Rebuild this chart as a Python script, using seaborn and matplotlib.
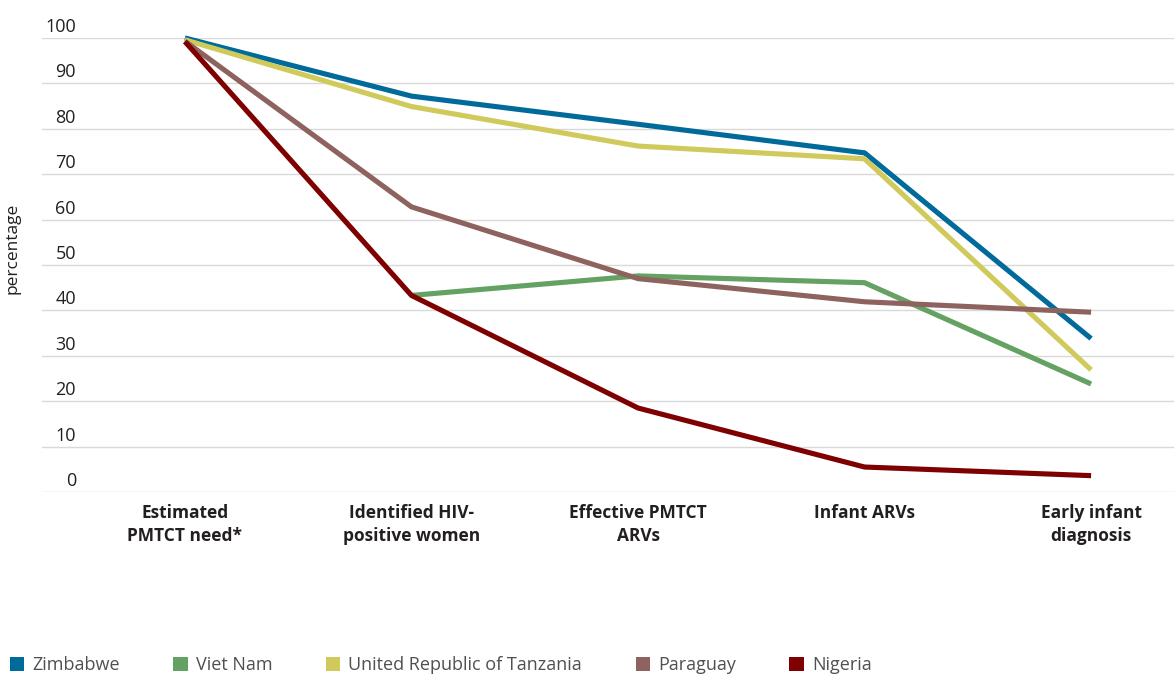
import pandas as pd
import matplotlib.pyplot as plt
import matplotlib.transforms as mtransforms
from matplotlib.patches import Patch
import seaborn as sns

# Data
stages = ["Estimated\nPMTCT need*", "Identified HIV-\npositive women", "Effective PMTCT\nARVs",
          "Infant ARVs", "Early infant\ndiagnosis"]
countries = ["Zimbabwe", "Viet Nam", "United Republic of Tanzania", "Paraguay", "Nigeria"]
zimbabwe = [100, 87.2, 81.0, 74.7, 33.8]
viet_nam = [None, 43.3, 47.6, 46.1, 23.8]
tanzania = [99.6, 84.9, 76.2, 73.4, 26.9]
paraguay = [99.3, 62.8, 47.0, 41.9, 39.6]
nigeria = [99.2, 43.3, 18.5, 5.5, 3.6]
colors = ["#006a9b", "#63a263", "#d0ca5c", "#8e625e", "#7f0000"]

series = dict(zip(countries, [zimbabwe, viet_nam, tanzania, paraguay, nigeria]))
rows = []
for c, vals in series.items():
    for s, v in zip(stages, vals):
        if v is not None:
            rows.append({"country": c, "stage": s, "value": v})
df = pd.DataFrame(rows)

sns.set_style("white")
plt.rcParams['font.family'] = ['Open Sans', 'DejaVu Sans']

fig = plt.figure(figsize=(11.74, 6.75), dpi=100)
ax = fig.add_axes([42 / 1174, 1 - 492 / 675, 1 - 42 / 1174, (492 - 38) / 675])

sns.lineplot(data=df, x="stage", y="value", hue="country", hue_order=countries,
             palette=dict(zip(countries, colors)), linewidth=3.7, sort=False,
             errorbar=None, legend=False, ax=ax)
for ln in ax.get_lines():
    ln.set_clip_on(False)
    ln.set_solid_joinstyle("miter")
    ln.set_solid_capstyle("butt")

ax.set_ylim(0, 100)
ax.set_xlim(-0.631, 4.366)
ax.set_yticks(range(0, 101, 10))
ax.grid(axis="y", color="#d9d9d9", linewidth=1.0)
ax.grid(axis="x", visible=False)
ax.set_axisbelow(True)
sns.despine(ax=ax, left=True, bottom=True)

ax.tick_params(axis="y", length=0, pad=0, labelsize=13, labelcolor="#231f20")
ax.tick_params(axis="x", length=0, pad=9, labelsize=12.5, labelcolor="#231f20")
for lab in ax.get_xticklabels():
    lab.set_fontweight("bold")
    lab.set_linespacing(1.35)

offset = mtransforms.ScaledTranslation(0.34, 0.13, fig.dpi_scale_trans)
for lab in ax.get_yticklabels():
    lab.set_transform(lab.get_transform() + offset)

ax.set_xlabel("")
ax.set_ylabel("percentage", fontsize=12.5, color="#231f20")
ax.yaxis.set_label_coords(-0.019, 0.537)

handles = [Patch(facecolor=c, edgecolor="none") for c in colors]
fig.legend(handles, countries, loc="center left", bbox_to_anchor=(10 / 1174, 1 - 665 / 675),
           ncol=5, frameon=False, fontsize=13, handlelength=0.8, handleheight=0.8,
           handletextpad=0.45, columnspacing=2.95, borderpad=0, borderaxespad=0,
           labelcolor="#505050")

fig.savefig("out.png", dpi=100)
